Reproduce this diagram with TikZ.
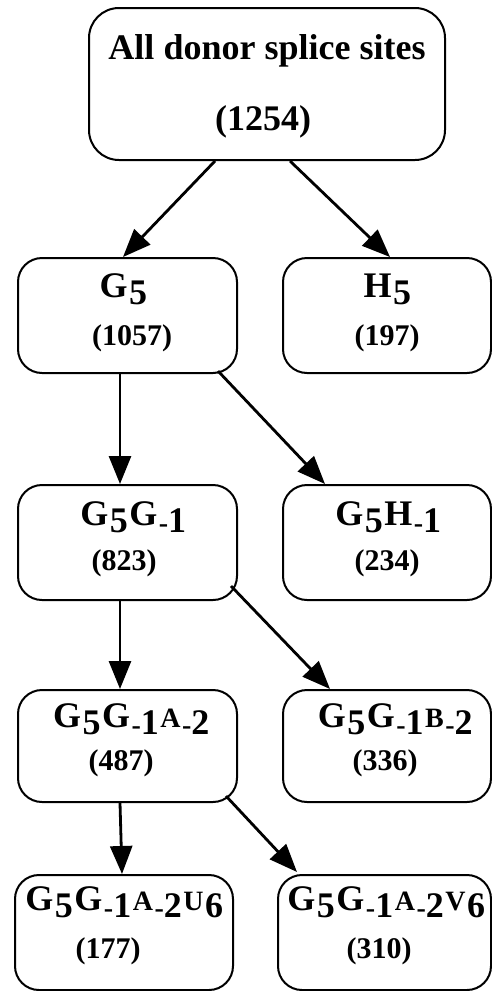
\documentclass[tikz,border=0pt]{standalone}
\usepackage{fontspec}
\setmainfont{Liberation Serif}
\usetikzlibrary{arrows.meta}
\newcommand\dn[1]{\raisebox{-7pt}{\kern1.5pt#1\kern1.5pt}}
\newcommand\hy{{\fontsize{28}{28}\selectfont -}}
\newcommand\sm[1]{{\fontsize{28}{28}\selectfont #1}}
\begin{document}
\begin{tikzpicture}[x=1pt,y=-1pt,
  box/.style={draw, line width=2pt, rounded corners=24pt, inner sep=0pt},
  lab/.style={anchor=base, inner sep=0pt, font=\fontsize{36}{36}\selectfont\bfseries},
  num/.style={anchor=base, inner sep=0pt, font=\fontsize{30}{30}\selectfont\bfseries},
  arr/.style={line width=2.8pt, -{Triangle[length=28pt,width=22pt]}}]
\useasboundingbox (0,0) rectangle (492,991);
% boxes
\node[box, minimum width=356pt, minimum height=152pt, rounded corners=30pt] (top) at (267,84) {};
\node[box, minimum width=219pt, minimum height=115pt] (g5) at (127.5,315.5) {};
\node[box, minimum width=208pt, minimum height=115pt] (h5) at (387,315.5) {};
\node[box, minimum width=219pt, minimum height=115pt] (g5g1) at (127.5,542.5) {};
\node[box, minimum width=208pt, minimum height=115pt] (g5h1) at (387,542.5) {};
\node[box, minimum width=219pt, minimum height=112pt] (ga) at (127.5,746) {};
\node[box, minimum width=208pt, minimum height=112pt] (gb) at (387,746) {};
\node[box, minimum width=218pt, minimum height=115pt] (gu) at (124,932.5) {};
\node[box, minimum width=213pt, minimum height=115pt] (gv) at (384.5,932.5) {};
% texts
\node[lab, font=\fontsize{36}{36}\selectfont\bfseries] (tl) at (267,59) {All donor splice sites};
\node[num, font=\fontsize{36}{36}\selectfont\bfseries] (tn) at (263,130) {(1254)};
\node[lab] (g5l) at (124,297) {G\dn{5}};
\node[num] (g5n) at (132,345) {(1057)};
\node[lab] (h5l) at (388,297) {H\dn{5}};
\node[num] (h5n) at (387,345) {(197)};
\node[lab] (g5g1l) at (134,525) {G\dn{5}G\dn{\hy1}};
\node[num] (g5g1n) at (124,570) {(823)};
\node[lab] (g5h1l) at (389,525) {G\dn{5}H\dn{\hy1}};
\node[num] (g5h1n) at (387,570) {(234)};
\node[lab] (gal) at (132,727) {G\dn{5}G\dn{\hy1}\sm{A}\dn{\hy2}};
\node[num] (gan) at (121,770) {(487)};
\node[lab] (gbl) at (396,727) {G\dn{5}G\dn{\hy1}\sm{B}\dn{\hy2}};
\node[num] (gbn) at (385,770) {(336)};
\node[lab] (gul) at (125,910) {G\dn{5}G\dn{\hy1}\sm{A}\dn{\hy2}\sm{U}\dn{6}};
\node[num] (gun) at (108,958) {(177)};
\node[lab] (gvl) at (387,910) {G\dn{5}G\dn{\hy1}\sm{A}\dn{\hy2}\sm{V}\dn{6}};
\node[num] (gvn) at (379,958) {(310)};
% arrows
\draw[arr] ([xshift=-52pt]top.south) -- ([xshift=-4.5pt]g5.north);
\draw[arr] ([xshift=23pt]top.south) -- ([xshift=3pt]h5.north);
\draw[arr] ([xshift=-7.5pt]g5.south) -- ([xshift=-7.5pt]g5g1.north);
\draw[arr] ([xshift=-20pt,yshift=3pt]g5.south east) -- ([xshift=-62pt]g5h1.north);
\draw[arr] ([xshift=-7.5pt]g5g1.south) -- ([xshift=-7.5pt]ga.north);
\draw[arr] ([xshift=-7pt,yshift=15pt]g5g1.south east) -- ([xshift=-57pt]gb.north);
\draw[arr] ([xshift=-7.5pt]ga.south) -- ([xshift=-2pt]gu.north);
\draw[arr] ([xshift=-12pt,yshift=7pt]ga.south east) -- ([xshift=-87.5pt,yshift=2pt]gv.north);
\end{tikzpicture}
\end{document}
